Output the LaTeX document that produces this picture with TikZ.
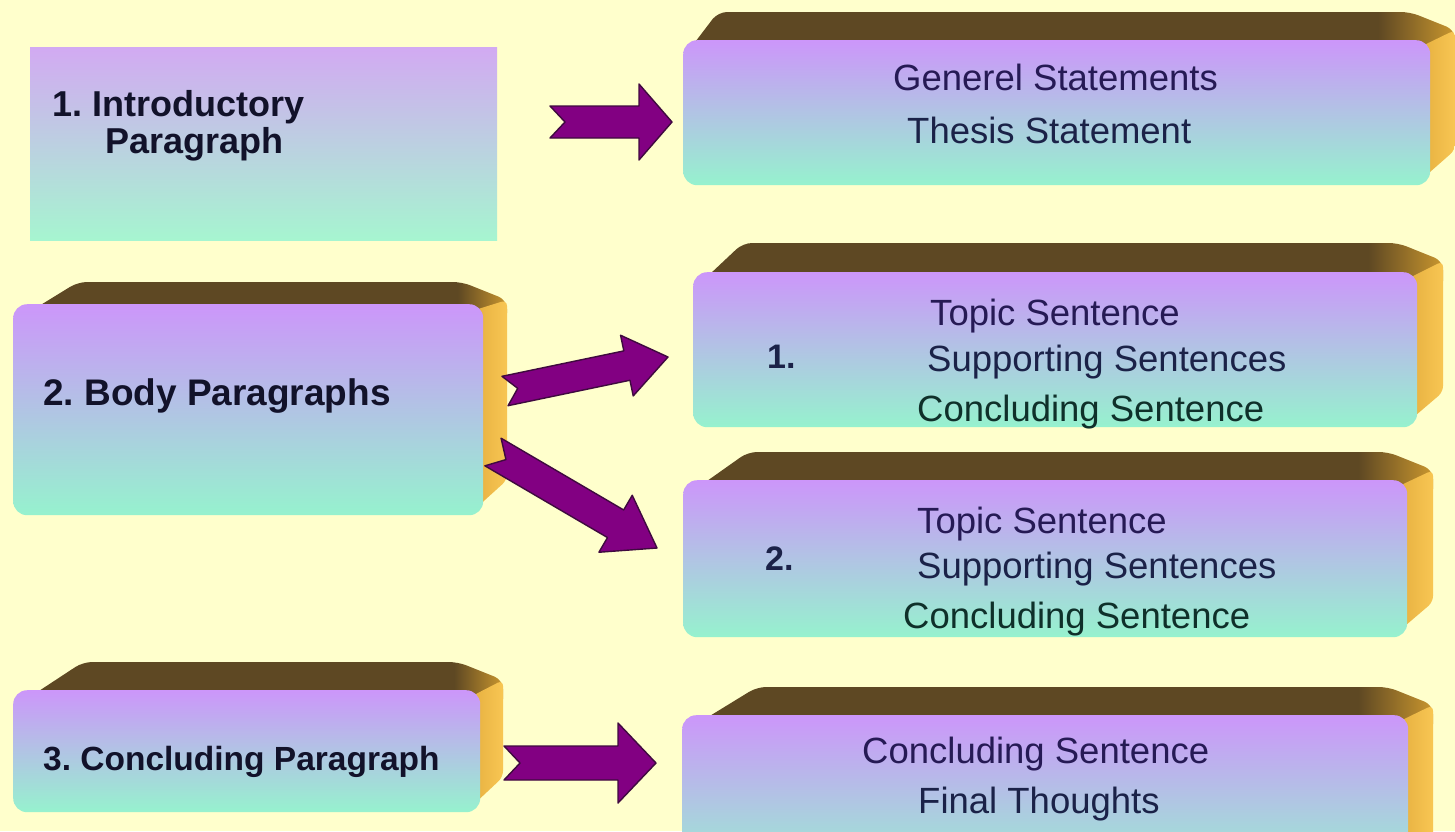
\documentclass[tikz,border=0pt]{standalone}
\usepackage{fontspec}
\setmainfont{Liberation Sans}
\usetikzlibrary{calc}
\definecolor{bg}{HTML}{FFFFCC}
\definecolor{facetop}{HTML}{CC96FA}
\definecolor{facebot}{HTML}{96F2CE}
\definecolor{introtop}{HTML}{D2AAF2}
\definecolor{introbot}{HTML}{A6F5D0}
\definecolor{brn}{HTML}{5E4823}
\definecolor{gld}{HTML}{C9962E}
\definecolor{org}{HTML}{F8C653}
\definecolor{orgD}{HTML}{E6B040}
\definecolor{arrfill}{HTML}{820082}
\definecolor{arredge}{HTML}{3F0A3F}
\definecolor{txtP}{HTML}{261A55}
\definecolor{txtM}{HTML}{1B2248}
\definecolor{txtG}{HTML}{0F302A}
\definecolor{lbl}{HTML}{12122A}
\pgfdeclarehorizontalshading{topshade}{100bp}{color(0bp)=(brn); color(70bp)=(brn); color(75bp)=(gld); color(100bp)=(gld)}
% #1 name, #2 x1, #3 y1 front top, #4 x2 front right, #5 y2 front bottom, #6 top of top face, #7 outer right, #8 left slant
\newcommand\boxthreed[8]{%
  \shade[shading=topshade, rounded corners=9pt] (#2,#3+18) -- (#2+#8,#6) -- (#7-45,#6) -- (#7,#6+18) -- (#7,#3+18) -- cycle;
  \shade[left color=orgD, right color=org, rounded corners=6pt] (#4-8,#3+6) -- (#7,#6+18) -- (#7,#5-35) -- (#4-8,#5-6) -- cycle;
  \node[face, minimum width={(#4-#2)*1pt}, minimum height={(#5-#3)*1pt}] (#1) at (#2,#3) {};
}
% #1 start, #2 end, #3 shaft half, #4 head half, #5 head length, #6 notch
\newcommand\blockarrow[6]{%
  \coordinate (#1-#2-hb) at ($(#2)!#5!(#1)$);
  \filldraw[blk] ($(#1)!#3!90:(#2)$) -- ($(#1-#2-hb)!#3!90:(#2)$) -- ($(#1-#2-hb)!#4!90:(#2)$)
    -- (#2) -- ($(#1-#2-hb)!#4!-90:(#2)$) -- ($(#1-#2-hb)!#3!-90:(#2)$) -- ($(#1)!#3!-90:(#2)$)
    -- ($(#1)!#6!(#2)$) -- cycle;
}
\frenchspacing
\begin{document}
\begin{tikzpicture}[x=1pt,y=-1pt,
  face/.style={rounded corners=14pt, top color=facetop, bottom color=facebot, draw=none, inner sep=0pt, anchor=north west},
  introbox/.style={top color=introtop, bottom color=introbot, draw=none, inner sep=0pt, anchor=north west},
  rtxt/.style={font=\fontsize{36.5}{40}\selectfont, anchor=base west, inner sep=0pt},
  ltxt/.style={font=\bfseries\fontsize{36}{40}\selectfont, anchor=base west, inner sep=0pt, text=lbl},
  blk/.style={fill=arrfill, draw=arredge, line width=1.4pt, line join=round}]
\useasboundingbox (0,0) rectangle (1455,831);
\clip (0,0) rectangle (1455,831);
\fill[bg] (0,0) rectangle (1455,831);

% left column
\node[introbox, minimum width=467pt, minimum height=193pt] (intro) at (30,47) {};
\boxthreed{body}{13}{304}{483}{515}{282}{507}{65}
\boxthreed{concl}{13}{690}{480}{812}{662}{503}{70}

% right column
\boxthreed{r1}{683}{40}{1430}{185}{12}{1455}{35}
\boxthreed{r2}{693}{272}{1417}{427}{243}{1443}{50}
\boxthreed{r3}{683}{480}{1407}{637}{452}{1433}{65}
\boxthreed{r4}{682}{715}{1408}{880}{687}{1433}{75}

% left labels
\node[ltxt] (l1a) at (52,116) {1. Introductory};
\node[ltxt] (l1b) at (105,153) {Paragraph};
\node[ltxt, font=\bfseries\fontsize{37}{40}\selectfont] (l2) at (43,405) {2. Body Paragraphs};
\node[ltxt, font=\bfseries\fontsize{33.5}{40}\selectfont] (l3) at (43,770) {3. Concluding Paragraph};

% right texts
\node[rtxt, text=txtP] (r1a) at (893,90) {Generel Statements};
\node[rtxt, text=txtM] (r1b) at (907,143) {Thesis Statement};

\node[rtxt, text=txtP] (r2a) at (930,325) {Topic Sentence};
\node[rtxt, text=txtM] (r2b) at (927,371) {Supporting Sentences};
\node[rtxt, text=txtG] (r2c) at (917,421) {Concluding Sentence};
\node[ltxt, font=\bfseries\fontsize{34}{40}\selectfont, text=txtM] (r2n) at (767,368) {1.};

\node[rtxt, text=txtP] (r3a) at (917,533) {Topic Sentence};
\node[rtxt, text=txtM] (r3b) at (917,578) {Supporting Sentences};
\node[rtxt, text=txtG] (r3c) at (903,628) {Concluding Sentence};
\node[ltxt, font=\bfseries\fontsize{34}{40}\selectfont, text=txtM] (r3n) at (765,570) {2.};

\node[rtxt, text=txtP] (r4a) at (862,763) {Concluding Sentence};
\node[rtxt, text=txtM] (r4b) at (918,813) {Final Thoughts};

% arrows
\coordinate (a1s) at (550,122);
\coordinate (a1e) at (672,122);
\coordinate (b1s) at (505,391);
\coordinate (b1e) at (668,357);
\coordinate (b2s) at (493,452);
\coordinate (b2e) at (657,548);
\coordinate (c1s) at (504,763);
\coordinate (c1e) at (656,763);
\blockarrow{a1s}{a1e}{16pt}{38pt}{33pt}{15pt}
\blockarrow{b1s}{b1e}{15pt}{31pt}{42pt}{13pt}
\blockarrow{b2s}{b2e}{16pt}{33pt}{48pt}{15pt}
\blockarrow{c1s}{c1e}{17pt}{40pt}{38pt}{16pt}
\end{tikzpicture}
\end{document}
